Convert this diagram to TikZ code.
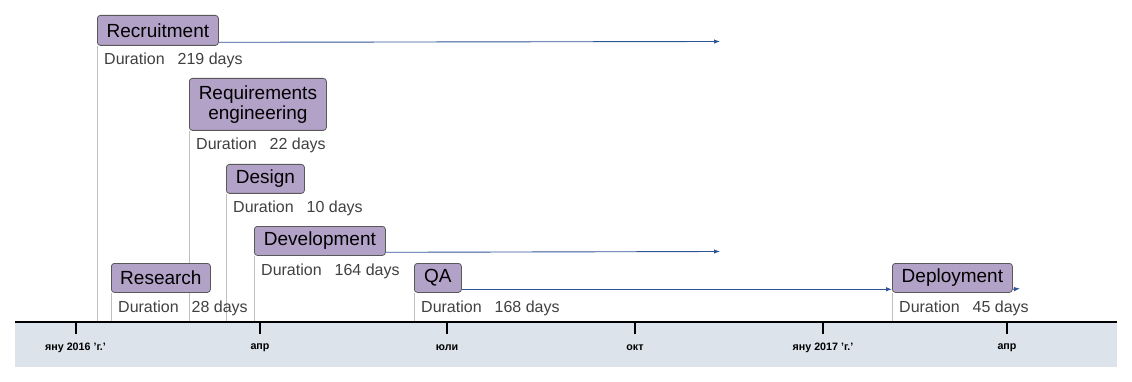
\documentclass[tikz,border=0pt]{standalone}
\usepackage{fontspec}
\setmainfont{Liberation Sans}
\usetikzlibrary{arrows.meta}
\definecolor{boxfill}{HTML}{B3A2C7}
\definecolor{boxdraw}{HTML}{595959}
\definecolor{arrowblue}{HTML}{2F5597}
\definecolor{band}{HTML}{DCE3EA}
\definecolor{vl}{HTML}{BFBFBF}
\definecolor{durtext}{HTML}{404040}
\pgfdeclarelayer{background}
\pgfsetlayers{background,main}
\tikzset{
 taskbox/.style={draw=boxdraw, fill=boxfill, rounded corners=3pt, line width=0.8pt, font=\fontsize{19}{21.5}\selectfont, inner sep=0pt, anchor=north west, align=center},
 durlabel/.style={font=\fontsize{16}{18}\selectfont, text=durtext, anchor=west, inner sep=0pt},
 vline/.style={draw=vl, line width=0.8pt},
 arr/.style={draw=arrowblue, line width=0.9pt, -{Latex[length=6pt,width=4.5pt]}},
 tickmark/.style={line width=1.6pt},
 ticklabel/.style={font=\bfseries\fontsize{10.7}{12}\selectfont, inner sep=0pt}
}
\newcommand{\dur}[1]{Duration\hspace{13pt}#1 days}
\begin{document}
\begin{tikzpicture}[x=1pt,y=-1pt]
\useasboundingbox (0,0) rectangle (1132,382);
% timeline band
\fill[band] (15,322) rectangle (1117,367);
\draw[line width=1.6pt] (15,322) -- (1117,322);
\foreach \x in {76,260,447,635,823,1007} \draw[tickmark] (\x,322) -- (\x,334);
\node[ticklabel] (t1) at (75.5,348) {яну 2016 'г.'};
\node[ticklabel] (t2) at (260,348) {апр};
\node[ticklabel] (t3) at (447,348) {юли};
\node[ticklabel] (t4) at (635,348) {окт};
\node[ticklabel] (t5) at (823,348) {яну 2017 'г.'};
\node[ticklabel] (t6) at (1007,348) {апр};
% axis coordinates
\coordinate (aRec) at (97,322);
\coordinate (aReq) at (189,322);
\coordinate (aDes) at (226,322);
\coordinate (aDev) at (254,322);
\coordinate (aRes) at (111,322);
\coordinate (aQA) at (414,322);
\coordinate (aDep) at (892,322);
\coordinate (eRec) at (720,41.5);
\coordinate (eDev) at (720,251.5);
\coordinate (eDep) at (1020,288.5);
% task boxes
\node[taskbox, minimum width=121pt, minimum height=30pt] (rec) at (97,15) {Recruitment};
\node[taskbox, minimum width=137pt, minimum height=52pt] (req) at (189,78) {Requirements\\[-2pt]engineering};
\node[taskbox, minimum width=78pt, minimum height=29pt] (des) at (226,164) {Design};
\node[taskbox, minimum width=131pt, minimum height=29pt] (dev) at (254,226) {Development};
\node[taskbox, minimum width=99pt, minimum height=29pt] (res) at (111,263) {Research};
\node[taskbox, minimum width=47pt, minimum height=29pt] (qa) at (414,263) {QA};
\node[taskbox, minimum width=120pt, minimum height=29pt] (dep) at (892,263) {Deployment};
% duration labels
\node[durlabel] (recd) at (104,60) {\dur{219}};
\node[durlabel] (reqd) at (196,145) {\dur{22}};
\node[durlabel] (desd) at (233,208) {\dur{10}};
\node[durlabel] (devd) at (261,271) {\dur{164}};
\node[durlabel] (resd) at (118,308) {\dur{28}};
\node[durlabel] (qad) at (421,308) {\dur{168}};
\node[durlabel] (depd) at (899,308) {\dur{45}};
\begin{pgfonlayer}{background}
\draw[vline] (rec.south west) -- (aRec);
\draw[vline] (req.south west) -- (aReq);
\draw[vline] (des.south west) -- (aDes);
\draw[vline] (dev.south west) -- (aDev);
\draw[vline] (res.south west) -- (aRes);
\draw[vline] (qa.south west) -- (aQA);
\draw[vline] (dep.south west) -- (aDep);
\draw[arr] ([yshift=3.5pt]rec.south east) -- (eRec);
\draw[arr] ([yshift=3.5pt]dev.south east) -- (eDev);
\draw[arr] ([yshift=3.5pt]qa.south east) -- ([yshift=3.5pt]dep.south west);
\draw[arr] ([yshift=3.5pt]dep.south east) -- (eDep);
\end{pgfonlayer}
\end{tikzpicture}
\end{document}
